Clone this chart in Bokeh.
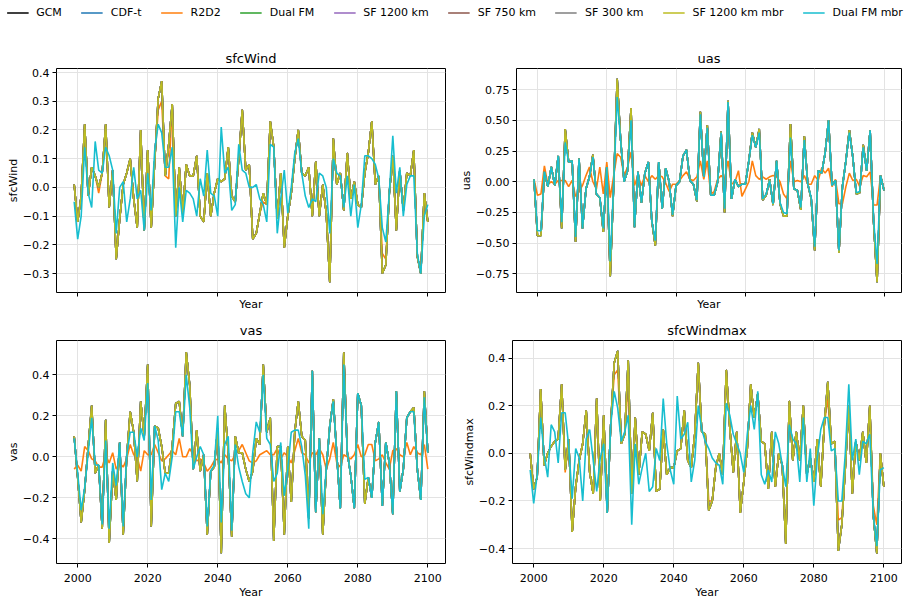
from bokeh.plotting import figure
from bokeh.models import Range1d, FixedTicker, CustomJSTickFormatter, Legend, LegendItem
from bokeh.layouts import column, row
from bokeh.embed import file_html
from bokeh.resources import INLINE

FONT = "DejaVu Sans"

YEARS = list(range(1999, 2101))

SERIES_NAMES = ["GCM", "CDF-t", "R2D2", "Dual FM", "SF 1200 km", "SF 750 km",
                "SF 300 km", "SF 1200 km mbr", "Dual FM mbr"]
COLORS = {
    "GCM": "#000000", "CDF-t": "#1f77b4", "R2D2": "#ff7f0e", "Dual FM": "#2ca02c",
    "SF 1200 km": "#9467bd", "SF 750 km": "#8c564b", "SF 300 km": "#7f7f7f",
    "SF 1200 km mbr": "#bcbd22", "Dual FM mbr": "#17becf",
}

# ---------------- sfcWind ----------------
sfcwind_gcm = [
    0.01, -0.12, -0.03, 0.22, -0.03, 0.07, 0.04, 0.00, 0.05, 0.22,
    -0.07, 0.06, -0.25, -0.11, 0.01, 0.05, 0.10, -0.04, -0.14, 0.20,
    -0.15, 0.13, -0.14, 0.09, 0.31, 0.37, 0.04, 0.15, 0.29, -0.10,
    0.07, -0.09, 0.08, 0.04, 0.04, 0.11, -0.10, -0.12, 0.05, -0.10,
    -0.02, 0.03, 0.02, 0.03, 0.14, -0.03, -0.05, 0.10, 0.27, 0.06,
    0.08, -0.18, -0.16, -0.09, -0.02, -0.06, 0.23, 0.14, -0.11, 0.05,
    -0.21, -0.10, -0.02, 0.10, 0.20, 0.05, 0.04, 0.07, -0.10, 0.09,
    -0.10, 0.01, -0.09, -0.33, 0.17, 0.01, 0.05, -0.08, 0.12, -0.04,
    0.02, -0.06, -0.07, 0.05, 0.12, 0.23, 0.01, 0.04, -0.30, -0.27,
    -0.02, 0.11, -0.15, 0.06, -0.08, 0.05, 0.04, 0.13, -0.24, -0.30,
    -0.02, -0.12]
sfcwind_dualfm_mbr = [
    -0.05, -0.18, -0.10, 0.14, -0.02, -0.07, 0.16, 0.06, 0.05, 0.14,
    0.11, 0.06, -0.16, 0.00, 0.02, -0.12, -0.04, 0.07, -0.04, -0.01,
    -0.15, 0.05, -0.08, 0.13, 0.22, 0.19, 0.07, 0.07, 0.14, -0.21,
    0.00, -0.12, -0.01, -0.02, -0.04, -0.10, 0.03, -0.03, 0.13, -0.02,
    -0.03, -0.10, 0.21, 0.05, 0.07, -0.08, -0.06, 0.15, 0.06, 0.05,
    0.00, 0.00, 0.01, -0.04, -0.06, -0.12, 0.15, 0.14, -0.16, -0.04,
    0.06, -0.09, 0.00, 0.12, 0.17, 0.05, -0.03, -0.07, -0.04, -0.05,
    0.05, 0.04, 0.00, -0.16, 0.10, 0.05, 0.04, -0.07, 0.04, -0.10,
    0.01, -0.14, -0.06, 0.11, 0.11, 0.10, 0.08, 0.03, -0.14, -0.19,
    -0.02, 0.18, -0.02, 0.07, -0.10, 0.01, 0.04, 0.04, -0.23, -0.30,
    -0.10, -0.06]
sfcwind_r2d2_diff = {2006: -0.02, 2023: 0.27, 2024: 0.30, 2026: 0.03,
                     2053: -0.05, 2087: -0.23, 2088: -0.25}

# ---------------- uas ----------------
uas_gcm = [
    0.02, -0.44, -0.44, 0.08, -0.04, 0.12, -0.03, 0.21, -0.38, 0.43,
    0.16, 0.17, -0.49, 0.19, -0.38, -0.06, 0.04, 0.22, -0.10, -0.13,
    -0.41, 0.12, -0.77, -0.02, 0.84, 0.34, 0.00, 0.09, 0.60, -0.37,
    0.08, -0.17, 0.07, 0.16, -0.32, -0.52, 0.16, -0.22, 0.11, 0.00,
    -0.28, -0.03, 0.00, 0.21, 0.26, 0.01, -0.02, -0.16, 0.57, 0.04,
    0.46, -0.11, -0.11, 0.00, 0.41, -0.25, 0.66, -0.14, 0.02, -0.04,
    -0.02, -0.02, 0.17, 0.40, 0.28, 0.43, -0.15, -0.11, 0.02, -0.19,
    0.17, -0.18, -0.28, -0.28, 0.47, -0.06, -0.07, -0.23, 0.37, -0.02,
    -0.14, -0.56, 0.09, 0.07, 0.23, 0.50, -0.03, 0.01, -0.58, -0.04,
    0.17, 0.42, 0.20, -0.10, -0.09, 0.30, 0.09, 0.42, -0.33, -0.82,
    0.05, -0.07]
uas_dualfm_mbr = [
    0.02, -0.40, -0.40, 0.08, -0.04, 0.12, -0.03, 0.21, -0.33, 0.32,
    0.16, 0.17, -0.45, 0.19, -0.38, -0.06, 0.04, 0.20, -0.10, -0.13,
    -0.38, 0.12, -0.65, -0.02, 0.69, 0.34, 0.00, 0.09, 0.50, -0.37,
    0.08, -0.17, 0.07, 0.16, -0.32, -0.48, 0.16, -0.22, 0.11, 0.00,
    -0.27, -0.03, 0.00, 0.21, 0.26, 0.01, -0.02, -0.15, 0.55, 0.04,
    0.44, -0.11, -0.11, 0.00, 0.40, -0.22, 0.65, -0.14, 0.02, -0.04,
    -0.02, -0.02, 0.17, 0.38, 0.28, 0.40, -0.14, -0.10, 0.01, -0.18,
    0.17, -0.17, -0.25, -0.26, 0.36, -0.06, -0.07, -0.21, 0.34, -0.02,
    -0.13, -0.53, 0.09, 0.07, 0.23, 0.50, -0.03, 0.01, -0.56, -0.04,
    0.17, 0.40, 0.20, -0.09, -0.08, 0.28, 0.09, 0.42, -0.31, -0.67,
    0.05, -0.07]
uas_r2d2 = [
    0.02, -0.11, -0.10, 0.13, -0.02, 0.00, -0.02, 0.01, 0.01, 0.01,
    -0.04, 0.01, -0.12, -0.08, -0.03, 0.05, 0.12, 0.00, -0.06, 0.12,
    -0.10, 0.16, -0.13, 0.05, 0.23, 0.20, 0.05, 0.12, 0.24, -0.03,
    0.05, -0.03, 0.05, 0.00, 0.05, 0.02, 0.05, 0.04, -0.01, -0.08,
    -0.02, -0.02, 0.01, 0.05, 0.08, 0.02, 0.01, 0.04, 0.17, 0.02,
    0.17, -0.10, -0.08, 0.02, 0.05, 0.02, 0.17, -0.02, 0.00, 0.09,
    -0.12, -0.06, 0.00, 0.17, 0.05, 0.02, 0.04, 0.02, 0.04, 0.05,
    0.04, 0.00, -0.10, -0.14, 0.17, 0.00, 0.01, 0.00, 0.05, -0.02,
    -0.02, 0.05, 0.01, 0.11, 0.07, 0.11, -0.04, 0.02, -0.18, -0.18,
    -0.04, 0.07, 0.01, 0.02, -0.04, 0.05, 0.04, 0.08, -0.19, -0.19,
    0.05, -0.06]

# ---------------- vas ----------------
vas_gcm = [
    0.10, -0.10, -0.32, -0.16, 0.05, 0.25, -0.08, -0.04, -0.35, 0.18,
    -0.42, -0.07, -0.21, 0.07, -0.38, 0.00, 0.22, 0.12, -0.12, 0.27,
    0.10, 0.45, -0.34, 0.15, 0.14, 0.05, -0.08, -0.08, 0.05, 0.26,
    0.27, 0.10, 0.51, 0.35, -0.06, 0.13, -0.07, 0.01, -0.38, -0.07,
    -0.05, 0.14, -0.47, 0.25, 0.02, -0.39, 0.10, 0.02, 0.02, -0.06,
    -0.12, -0.07, 0.09, 0.06, 0.45, 0.12, 0.19, -0.41, 0.05, 0.05,
    -0.38, 0.05, -0.22, 0.12, 0.27, 0.10, 0.08, -0.30, 0.42, -0.27,
    0.09, -0.38, -0.06, 0.15, 0.28, 0.01, -0.25, 0.51, 0.02, -0.09,
    -0.25, 0.31, 0.25, -0.23, -0.10, -0.20, 0.07, 0.17, -0.24, 0.07,
    -0.03, -0.28, 0.32, -0.17, -0.06, 0.19, 0.22, 0.24, -0.06, -0.21,
    0.32, 0.02]
vas_dualfm_mbr = [
    0.09, -0.08, -0.26, -0.15, 0.02, 0.19, -0.04, -0.04, -0.33, 0.08,
    -0.35, -0.03, -0.14, 0.07, -0.34, 0.01, 0.12, 0.12, 0.00, 0.14,
    0.08, 0.36, -0.21, 0.15, 0.08, -0.16, -0.08, -0.12, 0.00, 0.22,
    0.22, 0.10, 0.40, 0.24, -0.06, 0.00, 0.05, 0.01, -0.34, -0.07,
    -0.04, 0.20, -0.32, 0.06, 0.10, -0.36, 0.06, -0.05, -0.12, -0.18,
    -0.20, 0.02, 0.17, 0.12, 0.40, 0.09, 0.06, -0.12, -0.08, 0.07,
    -0.19, -0.06, 0.12, 0.13, 0.13, 0.05, -0.09, -0.35, 0.42, -0.27,
    0.09, -0.28, -0.06, 0.15, 0.27, 0.01, -0.25, 0.45, 0.02, -0.09,
    -0.25, 0.31, 0.25, -0.11, -0.10, -0.20, 0.07, 0.17, -0.24, 0.07,
    -0.03, -0.28, 0.32, -0.17, -0.06, 0.19, 0.22, 0.22, -0.06, -0.21,
    0.29, 0.02]
vas_r2d2 = [
    -0.06, -0.04, -0.07, 0.05, 0.03, -0.01, -0.02, -0.05, -0.05, 0.01,
    -0.03, 0.02, -0.06, -0.03, -0.05, -0.01, 0.06, 0.01, 0.00, -0.07,
    0.03, 0.01, 0.01, 0.06, 0.02, -0.02, -0.01, 0.01, 0.03, 0.01,
    0.09, 0.00, 0.00, 0.04, 0.01, -0.02, -0.01, -0.03, -0.07, -0.05,
    -0.02, -0.01, -0.03, 0.01, -0.01, -0.02, 0.01, 0.03, 0.06, 0.02,
    -0.02, -0.03, -0.02, 0.01, 0.02, 0.03, 0.01, 0.01, 0.04, -0.01,
    0.02, 0.00, -0.03, 0.03, 0.09, 0.02, 0.01, -0.03, 0.02, 0.01,
    0.04, 0.01, -0.06, -0.01, 0.07, -0.03, -0.05, 0.01, 0.00, -0.01,
    0.01, 0.06, 0.00, 0.01, 0.06, 0.06, -0.02, -0.01, 0.01, -0.03,
    -0.06, 0.03, 0.04, 0.01, 0.00, 0.07, 0.01, 0.05, 0.02, 0.01,
    0.06, -0.06]

# ---------------- sfcWindmax ----------------
sfcwindmax_gcm = [
    0.00, -0.15, -0.10, 0.27, -0.05, 0.00, 0.03, 0.05, 0.06, 0.29,
    -0.07, 0.06, -0.33, -0.14, -0.03, 0.04, 0.18, -0.08, -0.17, 0.23,
    -0.20, 0.16, -0.25, 0.12, 0.38, 0.43, 0.04, 0.08, 0.39, -0.17,
    0.15, -0.09, 0.09, 0.08, 0.01, 0.17, -0.16, -0.15, 0.10, -0.09,
    -0.06, -0.06, 0.01, 0.02, 0.18, -0.03, -0.06, 0.08, 0.38, 0.09,
    0.08, -0.24, -0.20, -0.06, 0.00, -0.09, 0.35, 0.11, -0.08, 0.09,
    -0.25, -0.12, 0.02, 0.29, 0.15, 0.25, 0.05, 0.04, -0.15, 0.09,
    -0.14, 0.00, -0.05, -0.38, 0.22, -0.03, 0.09, -0.03, 0.20, -0.09,
    -0.02, -0.12, 0.06, -0.14, 0.12, 0.30, 0.04, 0.05, -0.41, -0.30,
    -0.06, 0.20, -0.17, 0.05, -0.03, 0.09, -0.04, 0.20, -0.26, -0.42,
    0.00, -0.14]
sfcwindmax_dualfm_mbr = [
    -0.07, -0.21, -0.09, 0.15, -0.01, -0.10, 0.12, 0.09, -0.04, 0.17,
    0.17, 0.03, -0.19, 0.02, -0.02, -0.20, 0.06, 0.10, -0.03, -0.16,
    -0.02, 0.04, -0.25, 0.12, 0.26, 0.19, 0.05, 0.09, 0.16, -0.30,
    0.04, -0.13, -0.06, 0.00, -0.16, -0.14, 0.02, -0.03, 0.23, 0.04,
    -0.07, -0.13, 0.24, 0.06, 0.08, 0.13, -0.12, -0.03, 0.20, 0.10,
    0.05, 0.02, -0.02, -0.04, -0.05, -0.13, 0.21, 0.16, 0.08, 0.04,
    0.00, -0.08, 0.08, 0.20, 0.10, 0.26, -0.09, -0.13, -0.07, -0.12,
    0.09, 0.04, -0.05, -0.14, 0.12, 0.06, 0.04, -0.12, 0.15, -0.12,
    0.02, -0.22, -0.02, 0.10, 0.15, 0.15, 0.01, 0.02, -0.20, -0.20,
    0.00, 0.29, -0.03, 0.06, -0.09, 0.05, 0.04, 0.08, -0.26, -0.39,
    -0.07, -0.06]
sfcwindmax_r2d2_diff = {2009: -0.08, 2023: 0.33, 2024: 0.35, 2027: 0.30,
                        2050: -0.20, 2084: 0.23, 2087: -0.28, 2088: -0.27,
                        2097: -0.22, 2098: -0.30}

XTICKS = [2000, 2020, 2040, 2060, 2080, 2100]
X_LIMITS = (1993.95, 2105.05)


def with_diff(base, diff):
    return [diff.get(y, v) for y, v in zip(YEARS, base)]


def panel_series(gcm, r2d2, mbr):
    d = {name: gcm for name in SERIES_NAMES}
    d["R2D2"] = r2d2
    d["Dual FM mbr"] = mbr
    return d


PANELS = [
    dict(title="sfcWind", ylabel="sfcWind",
         data=panel_series(sfcwind_gcm, with_diff(sfcwind_gcm, sfcwind_r2d2_diff), sfcwind_dualfm_mbr),
         ylim=(-0.366, 0.414), yticks=[-0.3, -0.2, -0.1, 0.0, 0.1, 0.2, 0.3, 0.4], dec=1),
    dict(title="uas", ylabel="uas",
         data=panel_series(uas_gcm, uas_r2d2, uas_dualfm_mbr),
         ylim=(-0.903, 0.923), yticks=[-0.75, -0.5, -0.25, 0.0, 0.25, 0.5, 0.75], dec=2),
    dict(title="vas", ylabel="vas",
         data=panel_series(vas_gcm, vas_r2d2, vas_dualfm_mbr),
         ylim=(-0.52, 0.567), yticks=[-0.4, -0.2, 0.0, 0.2, 0.4], dec=1),
    dict(title="sfcWindmax", ylabel="sfcWindmax",
         data=panel_series(sfcwindmax_gcm, with_diff(sfcwindmax_gcm, sfcwindmax_r2d2_diff), sfcwindmax_dualfm_mbr),
         ylim=(-0.4625, 0.4735), yticks=[-0.4, -0.2, 0.0, 0.2, 0.4], dec=1),
]


def make_panel(spec, width, height, bl, br, bt, bb, show_xlabels):
    p = figure(width=width, height=height, x_range=Range1d(*X_LIMITS),
               y_range=Range1d(*spec["ylim"]), toolbar_location=None,
               output_backend="svg", title=spec["title"],
               min_border_left=bl, min_border_right=br,
               min_border_top=bt, min_border_bottom=bb)
    p.background_fill_color = "white"
    p.border_fill_color = "white"
    p.title.align = "center"
    p.title.text_font = FONT
    p.title.text_font_size = "13px"
    p.title.text_font_style = "normal"
    p.title.text_color = "black"
    p.title.standoff = 6
    p.outline_line_color = "black"
    p.outline_line_width = 1
    p.outline_line_alpha = 1.0
    for ax in (p.xaxis[0], p.yaxis[0]):
        ax.axis_line_color = None
        ax.major_tick_out = 4
        ax.major_tick_in = 0
        ax.minor_tick_out = 0
        ax.minor_tick_in = 0
        ax.major_tick_line_color = "black"
        ax.major_label_text_font = FONT
        ax.major_label_text_font_size = "11px"
        ax.major_label_text_color = "black"
        ax.axis_label_text_font = FONT
        ax.axis_label_text_font_size = "11px"
        ax.axis_label_text_font_style = "normal"
        ax.axis_label_text_color = "black"
    p.xaxis.ticker = FixedTicker(ticks=XTICKS)
    p.yaxis.ticker = FixedTicker(ticks=spec["yticks"])
    p.xaxis.axis_label = "Year"
    p.yaxis.axis_label = spec["ylabel"]
    p.xaxis.major_label_standoff = 6
    p.yaxis.major_label_standoff = 3
    p.xaxis.axis_label_standoff = 1
    p.yaxis.axis_label_standoff = 0
    p.yaxis.formatter = CustomJSTickFormatter(
        code="return tick.toFixed(%d).replace('-', '\\u2212');" % spec["dec"])
    if show_xlabels:
        p.xaxis.formatter = CustomJSTickFormatter(code="return tick.toFixed(0);")
    else:
        p.xaxis.formatter = CustomJSTickFormatter(code="return '';")
        p.xaxis.major_label_standoff = 0
    p.xgrid.grid_line_color = "#e3e3e3"
    p.ygrid.grid_line_color = "#e3e3e3"
    p.xgrid.grid_line_width = 1
    p.ygrid.grid_line_width = 1
    for name in SERIES_NAMES:
        p.line(YEARS, spec["data"][name], line_color=COLORS[name], line_width=1.6)
    return p


# legend strip (sample lines lie outside the visible range)
lf = figure(width=909, height=24, x_range=Range1d(0, 1), y_range=Range1d(0, 1),
            toolbar_location=None, output_backend="svg",
            x_axis_type=None, y_axis_type=None, min_border=0)
lf.outline_line_color = None
items = []
for name in SERIES_NAMES:
    r = lf.line(x=[-5, -4], y=[-5, -5], line_color=COLORS[name], line_width=1.6)
    items.append(LegendItem(label=name, renderers=[r]))
leg = Legend(items=items, orientation="horizontal", location="center",
             label_text_font=FONT, label_text_font_size="11px",
             label_text_color="black",
             glyph_width=22, glyph_height=12, label_height=12,
             label_standoff=8, spacing=19, padding=0, margin=0,
             border_line_color=None, background_fill_alpha=0)
lf.add_layout(leg, "center")

tl = make_panel(PANELS[0], 456, 291, 56, 11, 44, 23, False)
tr = make_panel(PANELS[1], 453, 291, 56, 8, 44, 23, False)
bl = make_panel(PANELS[2], 456, 287, 56, 11, 25, 39, True)
br = make_panel(PANELS[3], 453, 287, 56, 8, 25, 39, True)

layout = column(lf, row(tl, tr), row(bl, br))

open("out.html", "w").write(file_html(layout, INLINE))
